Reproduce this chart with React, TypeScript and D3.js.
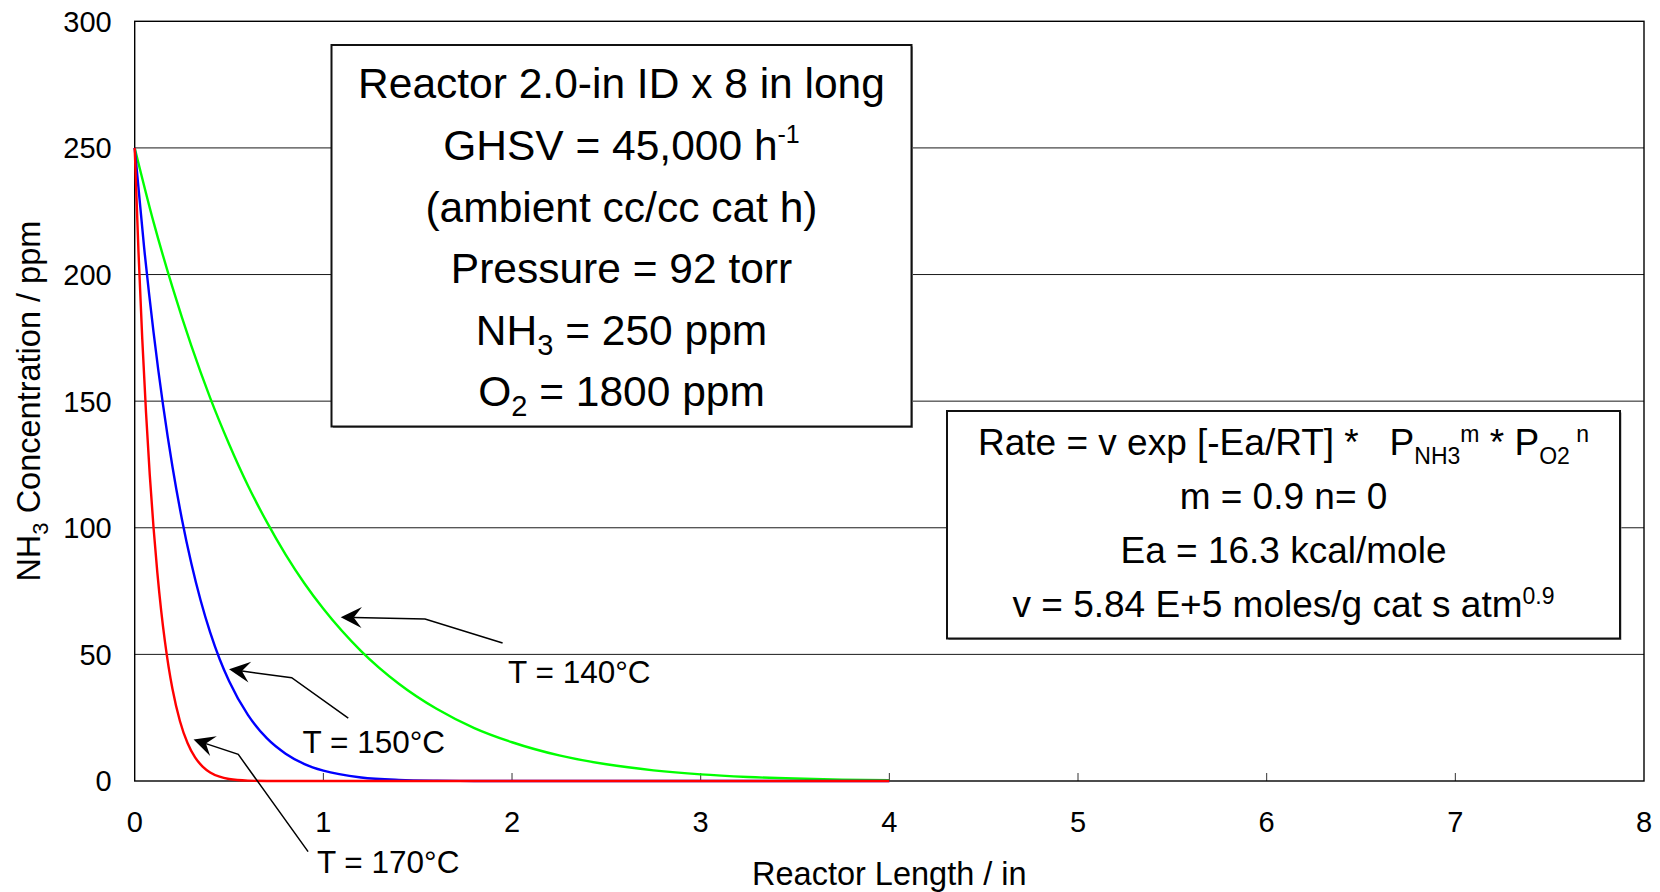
import React from "react";
import * as d3 from "d3";

// ---- data ----
const xTicks = [0, 1, 2, 3, 4, 5, 6, 7, 8];
const yTicks = [0, 50, 100, 150, 200, 250, 300];

const green140X = [0, 0.1, 0.2, 0.3, 0.4, 0.5, 0.6, 0.7, 0.8, 0.9, 1.0, 1.2, 1.4, 1.6, 1.8, 2.0, 2.25, 2.5, 2.75, 3.0, 3.25, 3.5, 3.75, 4.0];
const green140Y = [250, 220.7, 195.0, 171.9, 151.3, 133.1, 116.7, 102.3, 89.4, 78.0, 68.0, 51.3, 38.4, 28.5, 20.9, 15.3, 10.1, 6.6, 4.2, 2.6, 1.6, 0.96, 0.55, 0.31];

const blue150X = [0, 0.05, 0.1, 0.15, 0.2, 0.25, 0.3, 0.35, 0.4, 0.45, 0.5, 0.6, 0.7, 0.8, 0.9, 1.0, 1.2, 1.4, 1.6, 1.8, 2.0, 2.5, 3.0, 4.0];
const blue150Y = [250, 210.6, 177.2, 148.6, 124.2, 103.5, 86.0, 71.2, 58.7, 48.2, 39.5, 26.1, 16.9, 10.8, 6.7, 4.1, 1.4, 0.42, 0.11, 0.02, 0, 0, 0, 0];

const red170X = [0, 0.02, 0.04, 0.06, 0.08, 0.1, 0.12, 0.14, 0.16, 0.18, 0.2, 0.24, 0.28, 0.32, 0.36, 0.4, 0.45, 0.5, 0.6, 0.7, 0.8, 1.0, 2.0, 3.0, 4.0];
const red170Y = [250, 209.1, 174.7, 145.5, 120.7, 99.9, 82.3, 67.5, 55.2, 44.9, 36.4, 23.6, 15.0, 9.3, 5.7, 3.4, 1.7, 0.8, 0.15, 0.02, 0, 0, 0, 0, 0];

const seriesNames = ["T = 140°C", "T = 150°C", "T = 170°C"];
const seriesColors = ["#00ff00", "#0000ff", "#ff0000"];

// annotation arrows in data units: [tip, elbow, tail]
const arrowPts: [number, number][][] = [
  [[1.092, 64.7], [1.539, 64.0], [1.95, 54.5]],
  [[0.5, 44.1], [0.832, 40.8], [1.132, 24.8]],
  [[0.312, 16.4], [0.549, 10.5], [0.919, -27.9]],
];
const labelPos: [number, number][] = [[1.979, 38.8], [0.89, 11.2], [0.966, -36.3]];

const FONT = "'Liberation Sans', Arial, Helvetica, sans-serif";

export default function App() {
  const W = 1660, H = 892;
  const L = 134.7, R = 1644, T = 21.3, B = 781;
  const x = d3.scaleLinear().domain([0, 8]).range([L, R]);
  const y = d3.scaleLinear().domain([0, 300]).range([B, T]);

  const line = d3
    .line<[number, number]>()
    .x((d) => x(d[0]))
    .y((d) => y(d[1]))
    .curve(d3.curveMonotoneX);

  const series = [
    green140X.map((v, i) => [v, green140Y[i]] as [number, number]),
    blue150X.map((v, i) => [v, blue150Y[i]] as [number, number]),
    red170X.map((v, i) => [v, red170Y[i]] as [number, number]),
  ];

  const arrowHead = (tip: [number, number], from: [number, number]) => {
    const tx = x(tip[0]), ty = y(tip[1]);
    const fx = x(from[0]), fy = y(from[1]);
    const dx = fx - tx, dy = fy - ty;
    const len = Math.hypot(dx, dy);
    const ux = dx / len, uy = dy / len;
    const px = -uy, py = ux;
    const hl = 21, hw = 10.5, notch = 13;
    const p1 = [tx + ux * hl + px * hw, ty + uy * hl + py * hw];
    const p2 = [tx + ux * notch, ty + uy * notch];
    const p3 = [tx + ux * hl - px * hw, ty + uy * hl - py * hw];
    return {
      poly: `${tx},${ty} ${p1[0]},${p1[1]} ${p2[0]},${p2[1]} ${p3[0]},${p3[1]}`,
      notch: p2,
    };
  };

  const b1 = { x0: 331.5, y0: 45, x1: 911.5, y1: 426.5 };
  const b1c = (b1.x0 + b1.x1) / 2;
  const b2 = { x0: 947, y0: 411, x1: 1620, y1: 638.5 };
  const b2c = (b2.x0 + b2.x1) / 2;

  return (
    <svg
      width={W}
      height={H}
      style={{ position: "absolute", left: 0, top: 0, display: "block", background: "#fff" }}
      fontFamily={FONT}
    >
      <rect x={0} y={0} width={W} height={H} fill="#fff" />
      {/* gridlines */}
      {yTicks.filter((t) => t > 0 && t < 300).map((t) => (
        <line key={"g" + t} x1={L} x2={R} y1={y(t)} y2={y(t)} stroke="#1a1a1a" strokeWidth={1} />
      ))}
      {/* x ticks inside */}
      {xTicks.filter((t) => t > 0 && t < 8).map((t) => (
        <line key={"xt" + t} x1={x(t)} x2={x(t)} y1={B} y2={B - 8} stroke="#333" strokeWidth={1} />
      ))}
      {/* frame */}
      <rect x={L} y={T} width={R - L} height={B - T} fill="none" stroke="#000" strokeWidth={1.4} />

      {/* tick labels */}
      {yTicks.map((t) => (
        <text key={"yl" + t} x={111.7} y={y(t) + 10.4} textAnchor="end" fontSize={29} fill="#000">
          {t}
        </text>
      ))}
      {xTicks.map((t) => (
        <text key={"xl" + t} x={x(t)} y={832} textAnchor="middle" fontSize={29} fill="#000">
          {t}
        </text>
      ))}

      {/* axis titles */}
      <text x={(L + R) / 2} y={885} textAnchor="middle" fontSize={32.5} fill="#000">
        Reactor Length / in
      </text>
      <text transform={`translate(40,${(T + B) / 2}) rotate(-90)`} textAnchor="middle" fontSize={32.5} fill="#000">
        NH<tspan fontSize={22} dy={8}>3</tspan>
        <tspan dy={-8}> Concentration / ppm</tspan>
      </text>

      {/* box 1 */}
      <rect x={b1.x0 + 1.5} y={b1.y0 + 1.5} width={b1.x1 - b1.x0} height={b1.y1 - b1.y0} fill="#999" />
      <rect x={b1.x0} y={b1.y0} width={b1.x1 - b1.x0} height={b1.y1 - b1.y0} fill="#fff" stroke="#111" strokeWidth={2} />
      <g fontSize={42.5} textAnchor="middle" fill="#000">
        <text x={b1c} y={98.3}>Reactor 2.0-in ID x 8 in long</text>
        <text x={b1c} y={160}>
          GHSV = 45,000 h<tspan fontSize={25} dy={-17}>-1</tspan>
        </text>
        <text x={b1c} y={221.6}>(ambient cc/cc cat h)</text>
        <text x={b1c} y={283.2}>Pressure = 92 torr</text>
        <text x={b1c} y={344.8}>
          NH<tspan fontSize={29} dy={10}>3</tspan>
          <tspan dy={-10}> = 250 ppm</tspan>
        </text>
        <text x={b1c} y={406.4}>
          O<tspan fontSize={29} dy={10}>2</tspan>
          <tspan dy={-10}> = 1800 ppm</tspan>
        </text>
      </g>

      {/* box 2 */}
      <rect x={b2.x0 + 1.5} y={b2.y0 + 1.5} width={b2.x1 - b2.x0} height={b2.y1 - b2.y0} fill="#999" />
      <rect x={b2.x0} y={b2.y0} width={b2.x1 - b2.x0} height={b2.y1 - b2.y0} fill="#fff" stroke="#111" strokeWidth={2} />
      <g fontSize={37} textAnchor="middle" fill="#000">
        <text x={b2c} y={455} xmlSpace="preserve" style={{ whiteSpace: "pre" }}>
          {"Rate = v exp [-Ea/RT] *   P"}
          <tspan fontSize={23} dy={9}>NH3</tspan>
          <tspan fontSize={23} dy={-22}>m</tspan>
          <tspan dy={13}>{" * P"}</tspan>
          <tspan fontSize={23} dy={9}>O2</tspan>
          <tspan fontSize={23} dy={-22}>{" n"}</tspan>
        </text>
        <text x={b2c} y={509}>m = 0.9 n= 0</text>
        <text x={b2c} y={563}>Ea = 16.3 kcal/mole</text>
        <text x={b2c} y={617}>
          v = 5.84 E+5 moles/g cat s atm<tspan fontSize={23} dy={-13}>0.9</tspan>
        </text>
      </g>

      {/* curves */}
      {series.map((s, i) => (
        <path key={"s" + i} d={line(s) || ""} fill="none" stroke={seriesColors[i]} strokeWidth={2.4} />
      ))}

      {/* annotations */}
      {arrowPts.map((pts, i) => {
        const h = arrowHead(pts[0], pts[1]);
        const d = `M${h.notch[0]},${h.notch[1]} L${x(pts[1][0])},${y(pts[1][1])} L${x(pts[2][0])},${y(pts[2][1])}`;
        return (
          <g key={"a" + i}>
            <path d={d} fill="none" stroke="#000" strokeWidth={1.5} />
            <polygon points={h.poly} fill="#000" />
            <text x={x(labelPos[i][0])} y={y(labelPos[i][1])} fontSize={31.5} fill="#000">
              {seriesNames[i]}
            </text>
          </g>
        );
      })}
    </svg>
  );
}
